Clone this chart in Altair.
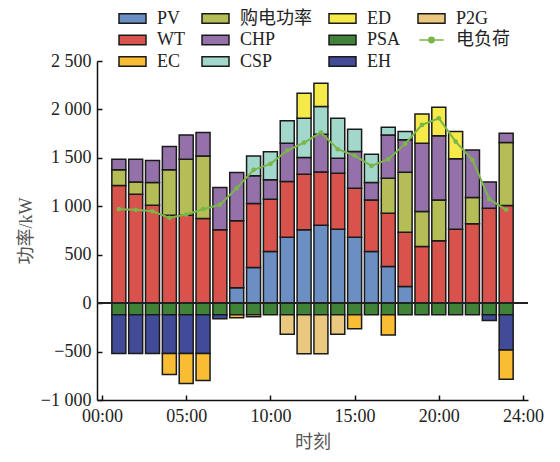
import altair as alt
import pandas as pd

hours = list(range(1, 25))

PV = [0, 0, 0, 0, 0, 0, 0, 158, 368, 533, 681, 757, 805, 764, 681, 533, 378, 172, 0, 0, 0, 0, 0, 0]
WT = [1214, 1125, 1011, 908, 908, 874, 757, 692, 661, 540, 575, 574, 550, 578, 506, 533, 551, 561, 585, 643, 764, 819, 980, 1008]
BUY = [162, 127, 234, 468, 578, 646, 0, 0, 0, 0, 0, 0, 0, 0, 0, 0, 361, 619, 361, 423, 0, 271, 0, 650]
CHP = [110, 234, 227, 241, 251, 241, 437, 498, 285, 200, 395, 172, 389, 154, 378, 179, 447, 334, 705, 661, 726, 492, 272, 96]
CSP = [0, 0, 0, 0, 0, 0, 0, 0, 206, 289, 231, 406, 286, 413, 231, 293, 79, 86, 0, 0, 0, 0, 0, 0]
ED = [0, 0, 0, 0, 0, 0, 0, 0, 0, 0, 0, 258, 240, 0, 0, 0, 0, 0, 303, 296, 282, 0, 0, 0]
PSA = [-120] * 24
EH = [-400, -400, -400, -400, -400, -400, -40, 0, 0, 0, 0, 0, 0, 0, 0, 0, 0, 0, 0, 0, 0, 0, -60, -365]
EC = [0, 0, 0, -217, -310, -279, 0, -30, 0, 0, 0, 0, 0, 0, -145, 0, -210, 0, 0, 0, 0, 0, 0, -300]
P2G = [0, 0, 0, 0, 0, 0, 0, 0, -20, 0, -200, -403, -403, -200, 0, 0, 0, 0, 0, 0, 0, 0, 0, 0]
LOAD = [970, 963, 949, 881, 915, 970, 1015, 1187, 1376, 1438, 1576, 1658, 1761, 1589, 1524, 1417, 1486, 1644, 1840, 1909, 1668, 1479, 1073, 963]

stack_names = ["PV", "WT", "购电功率", "CHP", "CSP", "ED", "PSA", "EH", "EC", "P2G"]
stack_values = [PV, WT, BUY, CHP, CSP, ED, PSA, EH, EC, P2G]

legend_order = ["PV", "WT", "EC", "购电功率", "CHP", "CSP", "ED", "PSA", "EH", "P2G", "电负荷"]
color_map = {
    "PV": "#6b8fc3", "WT": "#d8534b", "购电功率": "#b5bd56", "CHP": "#9472a9",
    "CSP": "#a2d7cb", "ED": "#f6ea4a", "P2G": "#ebc87f", "PSA": "#3f8238",
    "EC": "#f8bd33", "EH": "#414b98", "电负荷": "#7ab648",
}
LINE_COLOR = "#7ab648"
bar_path = "M-1,-0.36H1V0.36H-1Z"
line_path = "M-0.9,0H0.9M-0.2,0A0.2,0.2 0 1,1 0.2,0A0.2,0.2 0 1,1 -0.2,0Z"

rows = []
for k, (name, vals) in enumerate(zip(stack_names, stack_values)):
    for h, v in zip(hours, vals):
        if v != 0:
            rows.append({"hour": h, "series": name, "value": v, "ord": k})
bars_df = pd.DataFrame(rows)
load_df = pd.DataFrame({"hour": hours, "load": LOAD})
legend_df = pd.DataFrame({"series": legend_order})

FONT = "Liberation Serif, Noto Sans CJK SC"

legend = alt.Legend(
    title=None, orient="none", legendX=21, legendY=-53, columns=4,
    columnPadding=16, rowPadding=0.5, clipHeight=21,
    labelFontSize=18, labelFont=FONT, labelColor="#222", labelOffset=10,
    symbolSize=729, symbolStrokeWidth=1.5, labelLimit=200,
)
color_scale = alt.Scale(domain=legend_order, range=[color_map[s] for s in legend_order])
shape_scale = alt.Scale(domain=legend_order, range=[line_path if s == "电负荷" else bar_path for s in legend_order])
stroke_scale = alt.Scale(domain=legend_order, range=[LINE_COLOR if s == "电负荷" else "#1a1a1a" for s in legend_order])

x_enc = alt.X(
    "hour:Q",
    scale=alt.Scale(domain=[0, 25], nice=False, zero=False),
    axis=alt.Axis(
        title="时刻", values=[0, 5, 10, 15, 20, 25],
        labelExpr="datum.value == 25 ? '24:00' : (datum.value < 10 ? '0' : '') + datum.value + ':00'",
        grid=False, tickSize={"expr": "-5"}, labelPadding=12, titlePadding=8,
    ),
)
y_enc = alt.Y(
    "value:Q", stack="zero",
    scale=alt.Scale(domain=[-1000, 2500], nice=False),
    axis=alt.Axis(
        title="功率/kW", values=[-1000, -500, 0, 500, 1000, 1500, 2000, 2500],
        labelExpr="replace(format(datum.value, ',d'), ',', ' ')",
        grid=False, tickSize={"expr": "-5"}, labelPadding=11, titlePadding=5,
    ),
)

bars = alt.Chart(bars_df).mark_bar(size=14, stroke="#1a1a1a", strokeWidth=1.5).encode(
    x=x_enc,
    y=y_enc,
    color=alt.Color("series:N", scale=color_scale, legend=legend),
    order=alt.Order("ord:Q"),
)

zero = alt.Chart(load_df).mark_rule(color="#222", strokeWidth=1.3).encode(y=alt.datum(0))

line = alt.Chart(load_df).mark_line(color=LINE_COLOR, strokeWidth=2).encode(
    x="hour:Q", y="load:Q"
)
dots = alt.Chart(load_df).mark_circle(color=LINE_COLOR, size=22, opacity=1).encode(
    x="hour:Q", y="load:Q"
)

legend_layer = alt.Chart(legend_df).transform_filter("false").mark_point(
    filled=True, opacity=1, strokeWidth=1.5
).encode(
    color=alt.Color("series:N", scale=color_scale, legend=legend),
    shape=alt.Shape("series:N", scale=shape_scale, legend=legend),
    stroke=alt.Stroke("series:N", scale=stroke_scale, legend=legend),
)

chart = alt.layer(bars, zero, line, dots, legend_layer).properties(
    width=431, height=339,
    autosize="none",
    padding={"left": 89, "top": 53, "right": 24, "bottom": 56},
).configure_axis(
    labelFont=FONT, titleFont=FONT, labelFontSize=18, titleFontSize=18,
    labelColor="#222", titleColor="#555", titleFontWeight="normal",
    domainColor="#111", domainWidth=1.5, tickColor="#111", tickWidth=1.5,
).configure_view(stroke=None)

chart.save("out.html", embed_options={"renderer": "svg", "actions": False})
